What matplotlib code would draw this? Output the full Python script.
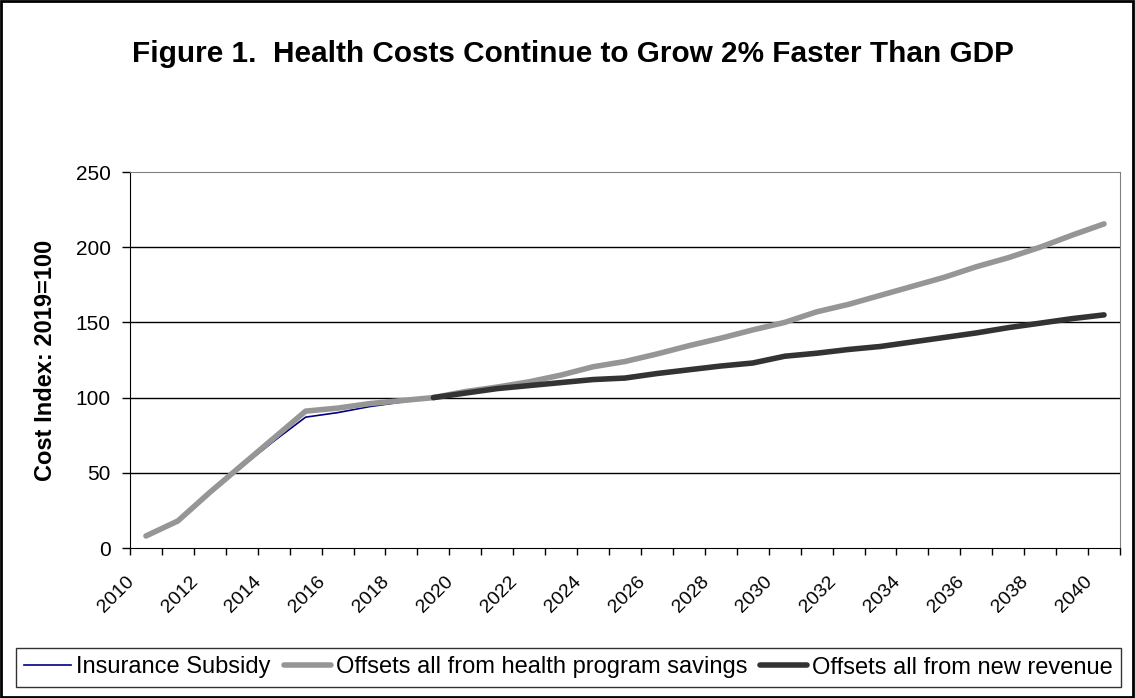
import matplotlib.pyplot as plt
import matplotlib.transforms as mtransforms
from matplotlib.patches import Rectangle

plt.rcParams['font.family'] = ['Liberation Sans', 'DejaVu Sans']

years = list(range(2010, 2041))

# Insurance Subsidy (2010-2019)
subsidy = [8, 17, 36, 54, 71, 87, 90, 94, 97, 100]
# Offsets all from health program savings (2010-2040)
savings = [8, 18, 37, 55, 73, 91, 93, 96, 98, 100,
           104, 107, 110.5, 115, 120.5, 124, 129, 134.5, 139.5, 145,
           150, 157, 162, 168, 174, 180, 187, 193, 200, 208, 215.5]
# Offsets all from new revenue (2019-2040)
revenue = [100, 103, 106, 108, 110, 112, 113, 116, 118.5, 121, 123,
           127.5, 129.5, 132, 134, 137, 140, 143, 146.5, 149.5, 152.5, 155]

labels = ['Insurance Subsidy', 'Offsets all from health program savings',
          'Offsets all from new revenue']

fig = plt.figure(figsize=(11.35, 6.98), dpi=100)
ax = fig.add_axes([130 / 1135, 150 / 698, 990 / 1135, 376 / 698])

x_all = list(range(len(years)))
x_sub = x_all[:len(subsidy)]
x_rev = x_all[len(years) - len(revenue):]

ax.plot(x_sub, subsidy, color='#000080', lw=1.2, label=labels[0])
ax.plot(x_all, savings, color='#969696', lw=4, solid_capstyle='round', label=labels[1])
ax.plot(x_rev, revenue, color='#333333', lw=4, solid_capstyle='round', label=labels[2])

ax.set_xlim(-0.5, len(years) - 0.5)
ax.set_ylim(0, 250)
ax.set_yticks(range(0, 251, 50))
ax.set_xticks(x_all[::2])
ax.set_xticklabels([str(y) for y in years[::2]], rotation=45, ha='center', va='top')
ax.set_xticks([i - 0.5 for i in range(len(years) + 1)], minor=True)
ax.tick_params(axis='x', which='major', length=0, pad=18, labelsize=14)
ax.tick_params(axis='x', which='minor', length=5, width=1, direction='out')
ax.tick_params(axis='y', length=6, width=1, direction='out', labelsize=15, pad=8)

shift = mtransforms.ScaledTranslation(-0.30, 0, fig.dpi_scale_trans)
for lbl in ax.get_xticklabels():
    lbl.set_transform(lbl.get_transform() + shift)

for yv in range(50, 250, 50):
    ax.axhline(yv, color='black', lw=1, zorder=0)

ax.spines['top'].set_color('#808080')
ax.spines['right'].set_color('#808080')
ax.spines['left'].set_color('black')
ax.spines['bottom'].set_color('black')

ax.set_ylabel('Cost Index: 2019=100', fontsize=17, fontweight='bold')
ax.yaxis.set_label_coords(-0.074, 0.5)

fig.text(572.5 / 1135, 1 - 62 / 698,
         'Figure 1.  Health Costs Continue to Grow 2% Faster Than GDP',
         ha='center', va='baseline', fontsize=21.4, fontweight='bold')

leg = fig.legend(loc='center', bbox_to_anchor=(568.5 / 1135, 1 - 667.5 / 698), ncol=3,
                 fontsize=17, frameon=True, fancybox=False, handlelength=2.0,
                 handletextpad=0.2, columnspacing=0.55, borderpad=0.35)
leg.get_frame().set_edgecolor('black')
leg.get_frame().set_linewidth(1)

fig.patches.append(Rectangle((0.001, 0.002), 0.997, 0.996, transform=fig.transFigure,
                             fill=False, edgecolor='black', lw=2))

fig.savefig('out.png', dpi=100)
